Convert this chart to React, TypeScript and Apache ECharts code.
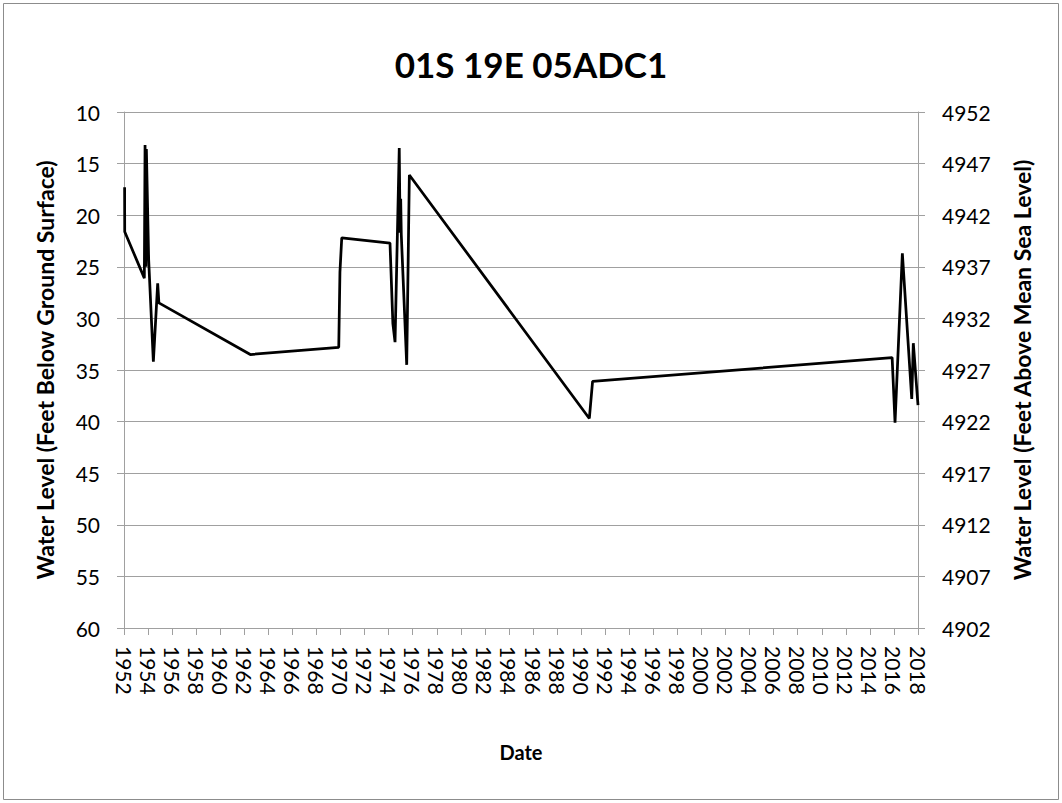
import React, { useEffect, useRef } from "react";
import * as echarts from "echarts";

const chartTitle = "01S 19E 05ADC1";
const leftAxisTitle = "Water Level (Feet Below Ground Surface)";
const rightAxisTitle = "Water Level (Feet Above Mean Sea Level)";
const xAxisTitle = "Date";

// measurement dates as decimal years
const dates = [
  1952.05, 1952.06, 1953.69, 1953.75, 1953.82, 1953.86, 1954.05, 1954.44, 1954.8, 1954.9,
  1962.5, 1969.85, 1969.95, 1970.1, 1974.11, 1974.35, 1974.53, 1974.88, 1974.95, 1975.0,
  1975.05, 1975.5, 1975.72, 1990.68, 1990.95, 2015.85, 2016.09, 2016.7, 2017.48, 2017.61,
  2018.0,
];
// depth to water, feet below ground surface
const depths = [
  17.3, 21.6, 26.1, 13.2, 25.0, 13.6, 24.3, 34.2, 26.6, 28.5,
  33.5, 32.8, 25.5, 22.2, 22.7, 30.5, 32.3, 13.5, 21.7, 18.4,
  21.9, 34.5, 16.1, 39.7, 36.1, 33.8, 40.1, 23.7, 37.8, 32.4,
  38.4,
];

const depthMin = 10;
const depthMax = 60;
const elevMin = 4902;
const elevMax = 4952;
const yearMin = 1952;
const yearMax = 2018;

export default function App() {
  const ref = useRef<HTMLDivElement>(null);
  useEffect(() => {
    const chart = echarts.init(ref.current!, undefined, { renderer: "svg" });
    const font = "Lato, 'Open Sans', sans-serif";
    const axisGray = "#a0a0a0";
    const nameStyle = { fontFamily: font, fontSize: 23, fontWeight: "bold", color: "#000" };
    chart.setOption({
      animation: false,
      backgroundColor: "#ffffff",
      textStyle: { fontFamily: font },
      title: {
        text: chartTitle,
        left: "center",
        top: 41,
        textStyle: { fontFamily: font, fontSize: 35, fontWeight: "bold", color: "#000" },
      },
      graphic: [
        {
          type: "rect",
          shape: { x: 3.5, y: 3.5, width: 1055, height: 796 },
          style: { fill: "none", stroke: "#8c8c8c", lineWidth: 1 },
          silent: true,
        },
      ],
      grid: { left: 124, right: 144, top: 112, bottom: 175 },
      xAxis: {
        type: "value",
        min: yearMin,
        max: yearMax,
        interval: 2,
        name: xAxisTitle,
        nameLocation: "middle",
        nameGap: 114,
        nameTextStyle: { ...nameStyle, fontSize: 20 },
        axisLine: { show: true, onZero: false, lineStyle: { color: axisGray, width: 1 } },
        axisTick: { show: true, length: 7, lineStyle: { color: axisGray } },
        splitLine: { show: false },
        axisLabel: {
          rotate: -90,
          margin: 18,
          fontSize: 21,
          color: "#000",
          fontFamily: font,
          formatter: (v: number) => String(v),
        },
      },
      yAxis: [
        {
          type: "value",
          inverse: true,
          min: depthMin,
          max: depthMax,
          interval: 5,
          position: "left",
          name: leftAxisTitle,
          nameLocation: "middle",
          nameGap: 68,
          nameRotate: 90,
          nameTextStyle: nameStyle,
          axisLine: { show: true, lineStyle: { color: axisGray, width: 1 } },
          axisTick: { show: true, length: 7, lineStyle: { color: axisGray } },
          splitLine: { show: true, lineStyle: { color: axisGray, width: 1 } },
          axisLabel: { margin: 24, fontSize: 21, color: "#000", fontFamily: font },
        },
        {
          type: "value",
          min: elevMin,
          max: elevMax,
          interval: 5,
          position: "right",
          name: rightAxisTitle,
          nameLocation: "middle",
          nameGap: 92,
          nameRotate: 90,
          nameTextStyle: nameStyle,
          axisLine: { show: true, lineStyle: { color: axisGray, width: 1 } },
          axisTick: { show: true, length: 7, lineStyle: { color: axisGray } },
          splitLine: { show: false },
          axisLabel: {
            margin: 24,
            fontSize: 21,
            color: "#000",
            fontFamily: font,
            formatter: (v: number) => String(v),
          },
        },
      ],
      series: [
        {
          type: "line",
          yAxisIndex: 0,
          data: dates.map((d, i) => [d, depths[i]]),
          showSymbol: false,
          symbol: "none",
          lineStyle: { color: "#000", width: 2.75 },
        },
      ],
    });
    return () => chart.dispose();
  }, []);
  return (
    <div
      ref={ref}
      style={{ position: "fixed", left: 0, top: 0, width: 1062, height: 803, background: "#fff" }}
    />
  );
}
